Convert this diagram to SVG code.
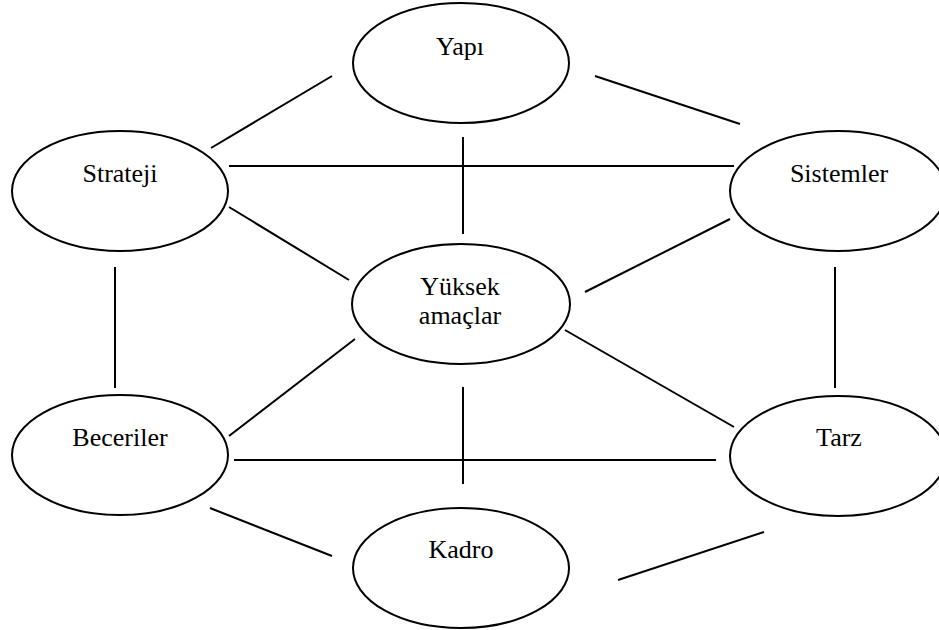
<svg xmlns="http://www.w3.org/2000/svg" width="939" height="630" viewBox="0 0 939 630">
  <style>
    .node ellipse { fill: #ffffff; stroke: #000000; stroke-width: 2; }
    .node text { font-family: "Liberation Serif", "Times New Roman", serif; font-size: 26px; fill: #000000; text-anchor: middle; }
    #connectors line { stroke: #000000; stroke-width: 2; }
  </style>
  <rect width="939" height="630" fill="#ffffff"/>

  <!-- connectors -->
  <g id="connectors">
    <line x1="211" y1="148" x2="332" y2="76"/>
    <line x1="595" y1="76" x2="740" y2="124"/>
    <line x1="229" y1="166" x2="734" y2="166"/>
    <line x1="463" y1="137" x2="463" y2="234"/>
    <line x1="229" y1="207" x2="349" y2="280"/>
    <line x1="730" y1="219" x2="585" y2="292"/>
    <line x1="115" y1="267" x2="115" y2="388"/>
    <line x1="835" y1="267" x2="835" y2="388"/>
    <line x1="229" y1="436" x2="355" y2="339"/>
    <line x1="565" y1="330" x2="734" y2="427"/>
    <line x1="234" y1="460" x2="716" y2="460"/>
    <line x1="463" y1="387" x2="463" y2="484"/>
    <line x1="210" y1="508" x2="332" y2="556"/>
    <line x1="764" y1="532" x2="618" y2="580"/>
  </g>

  <!-- nodes -->
  <g id="yapi" class="node">
    <ellipse cx="461" cy="63" rx="108" ry="60"/>
    <text x="460" y="55">Yapı</text>
  </g>
  <g id="strateji" class="node">
    <ellipse cx="120" cy="191" rx="108" ry="60"/>
    <text x="120" y="182">Strateji</text>
  </g>
  <g id="sistemler" class="node">
    <ellipse cx="838" cy="191" rx="108" ry="60"/>
    <text x="839" y="182">Sistemler</text>
  </g>
  <g id="yuksek-amaclar" class="node">
    <ellipse cx="461" cy="304" rx="109" ry="60"/>
    <text x="460" y="295">Yüksek</text>
    <text x="460" y="324">amaçlar</text>
  </g>
  <g id="beceriler" class="node">
    <ellipse cx="120" cy="455" rx="108" ry="60"/>
    <text x="120" y="446">Beceriler</text>
  </g>
  <g id="tarz" class="node">
    <ellipse cx="838" cy="456" rx="108" ry="60"/>
    <text x="839" y="446">Tarz</text>
  </g>
  <g id="kadro" class="node">
    <ellipse cx="461" cy="568" rx="108" ry="60"/>
    <text x="461" y="558">Kadro</text>
  </g>
</svg>
